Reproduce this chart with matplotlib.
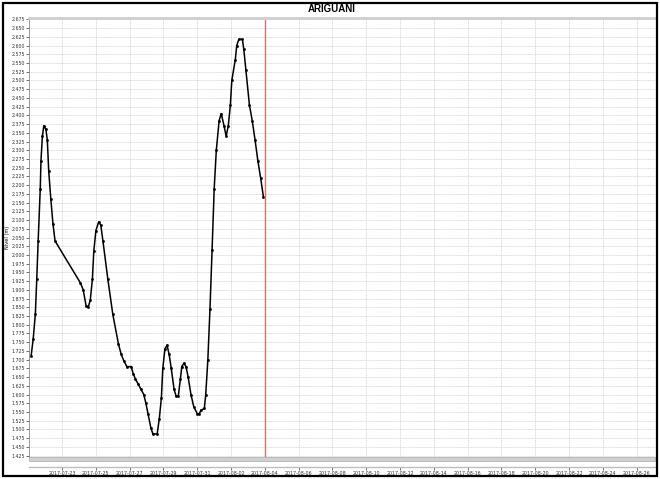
import numpy as np
import pandas as pd
import matplotlib
matplotlib.use("Agg")
import matplotlib.pyplot as plt
from matplotlib.patches import Rectangle

# river level readings
times = ["2017-07-21 04:00", "2017-07-21 07:00", "2017-07-21 10:00", "2017-07-21 12:00",
         "2017-07-21 14:00", "2017-07-21 17:00", "2017-07-21 18:00", "2017-07-21 20:00",
         "2017-07-21 22:00", "2017-07-22 01:00", "2017-07-22 03:00", "2017-07-22 05:00",
         "2017-07-22 08:00", "2017-07-22 11:00", "2017-07-22 14:00", "2017-07-24 02:00",
         "2017-07-24 06:00", "2017-07-24 10:00", "2017-07-24 13:00", "2017-07-24 16:00",
         "2017-07-24 19:00", "2017-07-24 21:00", "2017-07-25 00:00", "2017-07-25 04:00",
         "2017-07-25 07:00", "2017-07-25 10:00", "2017-07-25 17:00", "2017-07-26 00:00",
         "2017-07-26 08:00", "2017-07-26 12:00", "2017-07-26 16:00", "2017-07-26 20:00",
         "2017-07-27 02:00", "2017-07-27 05:00", "2017-07-27 08:00", "2017-07-27 12:00",
         "2017-07-27 16:00", "2017-07-27 20:00", "2017-07-27 23:00", "2017-07-28 02:00",
         "2017-07-28 06:00", "2017-07-28 09:00", "2017-07-28 15:00", "2017-07-28 18:00",
         "2017-07-28 21:00", "2017-07-28 23:00", "2017-07-29 02:00", "2017-07-29 05:00",
         "2017-07-29 08:00", "2017-07-29 11:00", "2017-07-29 15:00", "2017-07-29 18:00",
         "2017-07-29 21:00", "2017-07-30 00:00", "2017-07-30 02:00", "2017-07-30 05:00",
         "2017-07-30 08:00", "2017-07-30 11:00", "2017-07-30 15:00", "2017-07-30 19:00",
         "2017-07-31 00:00", "2017-07-31 03:00", "2017-07-31 05:00", "2017-07-31 10:00",
         "2017-07-31 12:00", "2017-07-31 15:00", "2017-07-31 18:00", "2017-07-31 21:00",
         "2017-08-01 00:00", "2017-08-01 03:00", "2017-08-01 07:00", "2017-08-01 10:00",
         "2017-08-01 14:00", "2017-08-01 17:00", "2017-08-01 20:00", "2017-08-01 23:00",
         "2017-08-02 01:00", "2017-08-02 06:00", "2017-08-02 08:00", "2017-08-02 11:00",
         "2017-08-02 16:00", "2017-08-02 18:00", "2017-08-02 21:00", "2017-08-03 02:00",
         "2017-08-03 06:00", "2017-08-03 10:00", "2017-08-03 14:00", "2017-08-03 18:00",
         "2017-08-03 22:00"]
levels = [1.710, 1.760, 1.830, 1.930, 2.040, 2.190, 2.270, 2.340,
          2.370, 2.360, 2.330, 2.240, 2.160, 2.090, 2.040, 1.920,
          1.900, 1.855, 1.850, 1.870, 1.930, 2.010, 2.070, 2.095,
          2.085, 2.040, 1.930, 1.830, 1.745, 1.715, 1.695, 1.680,
          1.680, 1.660, 1.645, 1.630, 1.615, 1.600, 1.575, 1.545,
          1.505, 1.487, 1.487, 1.530, 1.590, 1.675, 1.730, 1.742,
          1.715, 1.675, 1.615, 1.595, 1.595, 1.645, 1.680, 1.690,
          1.680, 1.650, 1.600, 1.565, 1.545, 1.545, 1.555, 1.560,
          1.600, 1.700, 1.845, 2.015, 2.190, 2.300, 2.385, 2.405,
          2.370, 2.340, 2.370, 2.430, 2.500, 2.560, 2.600, 2.618,
          2.618, 2.590, 2.530, 2.430, 2.385, 2.330, 2.270, 2.220,
          2.165]
now_mark = "2017-08-04 00:00"
x_start, x_end = "2017-07-21 01:00", "2017-08-27 02:00"
y_ticks = np.arange(1.425, 2.676, 0.025)

t = pd.to_datetime(times)
W, H = 660, 479
fig = plt.figure(figsize=(W / 100, H / 100), dpi=100)
fig.patch.set_facecolor("white")

ax = fig.add_axes([29 / W, 1 - 457 / H, (655 - 29) / W, (457 - 18) / H])
ax.plot(t, levels, color="black", lw=1.1, marker="s", ms=0.9, mfc="black", mec="black")
ax.axvline(pd.Timestamp(now_mark), color="#d9706b", lw=1)

ax.set_xlim(pd.Timestamp(x_start), pd.Timestamp(x_end))
ax.set_ylim(1.421, 2.679)
ax.set_yticks(y_ticks)
ax.set_yticklabels([f"{v:.3f}" for v in y_ticks], fontsize=3.4)
ax.tick_params(axis="y", length=2, width=0.5, pad=1, colors="#333333")
ax.set_ylabel("Nivel (m)", fontsize=3.6, labelpad=1)
ticks_x = pd.date_range("2017-07-23", "2017-08-26", freq="2D")
ax.set_xticks(ticks_x)
ax.tick_params(axis="x", length=0, labelbottom=False)
ax.grid(True, color="#cccccc", linestyle=(0, (1, 1)), lw=0.6)
for s in ["right", "bottom"]:
    ax.spines[s].set_visible(False)
ax.spines["top"].set_color("#cfcfcf")
ax.spines["top"].set_linewidth(2)
ax.spines["left"].set_color("#888888")
ax.spines["left"].set_linewidth(0.6)

# grey band under the plot area
fig.add_artist(Rectangle((29 / W, 1 - 461 / H), (655 - 29) / W, 4 / H,
                         transform=fig.transFigure, facecolor="#d0d0d0",
                         edgecolor="#a8a8a8", lw=0.5))

# separate date axis
axx = fig.add_axes([29 / W, 1 - 467 / H, (655 - 29) / W, 0.0001])
axx.set_xlim(pd.Timestamp(x_start), pd.Timestamp(x_end))
axx.set_xticks(ticks_x)
axx.set_xticklabels([d.strftime("%Y-%m-%d") for d in ticks_x], fontsize=3.4)
axx.tick_params(axis="x", length=2, width=0.5, pad=1, colors="#333333")
axx.set_yticks([])
for s in ["top", "left", "right"]:
    axx.spines[s].set_visible(False)
axx.spines["bottom"].set_color("#bdbdbd")
axx.spines["bottom"].set_linewidth(1)
axx.patch.set_visible(False)

fig.suptitle("ARIGUANI", x=0.503, y=1 - 9 / H, va="center", fontsize=7,
             fontweight="bold", family="Liberation Sans")

# black frame around the whole chart
fig.add_artist(Rectangle((3 / W, 3 / H), (W - 6) / W, (H - 6) / H,
                         transform=fig.transFigure, fill=False,
                         edgecolor="black", lw=1.6))

fig.savefig("out.png", dpi=100)
